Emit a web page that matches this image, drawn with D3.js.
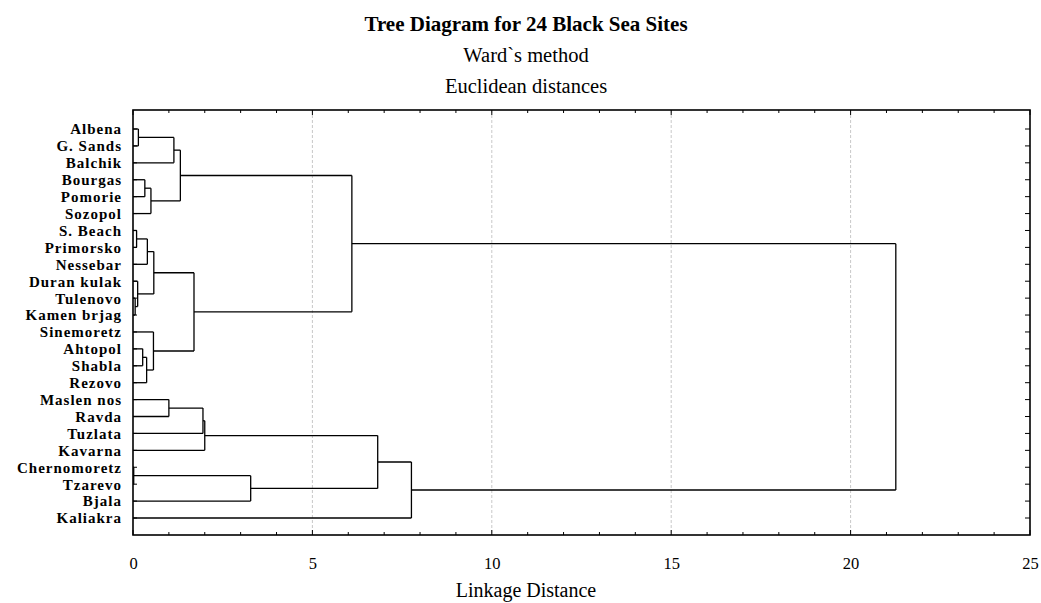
<!DOCTYPE html>
<html>
<head>
<meta charset="utf-8">
<script src="https://cdn.jsdelivr.net/npm/d3@7"></script>
<style>
  body { margin: 0; background: #fff; }
  text { font-family: "Liberation Serif", "Times New Roman", serif; fill: #000; }
</style>
</head>
<body>
<div id="chart"></div>
<script>
//leaf order as drawn, top to bottom
const sites = ["Albena", "G. Sands", "Balchik", "Bourgas", "Pomorie", "Sozopol",
  "S. Beach", "Primorsko", "Nessebar", "Duran kulak", "Tulenovo", "Kamen brjag",
  "Sinemoretz", "Ahtopol", "Shabla", "Rezovo", "Maslen nos", "Ravda", "Tuzlata",
  "Kavarna", "Chernomoretz", "Tzarevo", "Bjala", "Kaliakra"]

//joins: [new cluster, left, right, linkage distance]
const joins = [
  ["c1", "Albena", "G. Sands", 0.15],
  ["c2", "c1", "Balchik", 1.14],
  ["c3", "Bourgas", "Pomorie", 0.33],
  ["c4", "c3", "Sozopol", 0.50],
  ["c5", "c2", "c4", 1.32],
  ["c6", "S. Beach", "Primorsko", 0.10],
  ["c7", "c6", "Nessebar", 0.40],
  ["c8", "Tulenovo", "Kamen brjag", 0.06],
  ["c9", "Duran kulak", "c8", 0.13],
  ["c10", "c7", "c9", 0.58],
  ["c11", "Ahtopol", "Shabla", 0.27],
  ["c12", "c11", "Rezovo", 0.38],
  ["c13", "Sinemoretz", "c12", 0.57],
  ["c14", "c10", "c13", 1.70],
  ["c15", "c5", "c14", 6.10],
  ["c16", "Maslen nos", "Ravda", 1.00],
  ["c17", "c16", "Tuzlata", 1.95],
  ["c18", "c17", "Kavarna", 2.00],
  ["c19", "Chernomoretz", "Tzarevo", 0.02],
  ["c20", "c19", "Bjala", 3.28],
  ["c21", "c18", "c20", 6.82],
  ["c22", "c21", "Kaliakra", 7.76],
  ["c23", "c15", "c22", 21.26]
]

const xTicks = [0, 5, 10, 15, 20, 25]
const titleText = "Tree Diagram for 24 Black Sea Sites"
const subTitles = ["Ward`s method", "Euclidean distances"]
const xLabel = "Linkage Distance"

const W = 1041, H = 603
const dims = { top: 110, right: 11, bottom: 68, left: 133 }
dims.width = W - dims.left - dims.right
dims.height = H - dims.top - dims.bottom

const svg = d3.select("#chart").append("svg")
  .attr("width", W).attr("height", H)

const g = svg.append("g")
  .attr("transform", "translate(" + dims.left + "," + dims.top + ")")

const x = d3.scaleLinear().domain([0, 25]).range([0, dims.width])
const y = d3.scalePoint().domain(sites).range([19, 408])

//build the tree from the joins list
const byId = {}
sites.forEach(s => { byId[s] = { id: s, h: 0, children: null } })
joins.forEach(j => {
  byId[j[0]] = { id: j[0], h: j[3], children: [byId[j[1]], byId[j[2]]] }
})
const root = d3.hierarchy(byId[joins[joins.length - 1][0]])
root.eachAfter(n => {
  n.py = n.children ? d3.mean(n.children, c => c.py) : y(n.data.id)
})

//grid lines
g.selectAll(".grid").data(xTicks.filter(t => t > 0 && t < 25)).join("line")
  .attr("x1", d => x(d)).attr("x2", d => x(d))
  .attr("y1", 0).attr("y2", dims.height)
  .attr("stroke", "#c8c8c8").attr("stroke-width", 1)
  .attr("stroke-dasharray", "3,2")

//dendrogram elbows
const links = g.append("g").attr("fill", "none").attr("stroke", "#000").attr("stroke-width", 1.3)
root.each(n => {
  if (!n.children) return
  const nx = x(n.data.h)
  const ys = n.children.map(c => c.py)
  links.append("path")
    .attr("d", "M" + nx + "," + d3.min(ys) + "V" + d3.max(ys))
  n.children.forEach(c => {
    links.append("path").attr("d", "M" + x(c.data.h) + "," + c.py + "H" + nx)
  })
})

//axes: bottom with labels, top without, ticks pointing in
const minor = d3.range(0, 26)
const bottomAx = d3.axisBottom(x).tickValues(xTicks).tickSize(0).tickPadding(22)
g.append("g").attr("transform", "translate(0," + dims.height + ")")
  .call(bottomAx)
  .call(a => a.select(".domain").remove())
  .selectAll("text").style("font-size", "16.5px").style("font-family", "Liberation Serif")

const tickG = g.append("g").attr("stroke", "#000").attr("stroke-width", 1)
tickG.selectAll(".tb").data(minor).join("line")
  .attr("x1", d => x(d)).attr("x2", d => x(d))
  .attr("y1", dims.height).attr("y2", d => dims.height - (d % 5 ? 3 : 5))
tickG.selectAll(".tt").data(minor).join("line")
  .attr("x1", d => x(d)).attr("x2", d => x(d))
  .attr("y1", 0).attr("y2", d => (d % 5 ? 3 : 5))
tickG.selectAll(".tl").data(sites).join("line")
  .attr("x1", 0).attr("x2", 4)
  .attr("y1", d => y(d)).attr("y2", d => y(d))
tickG.selectAll(".tr").data(sites).join("line")
  .attr("x1", dims.width).attr("x2", dims.width - 5)
  .attr("y1", d => y(d)).attr("y2", d => y(d))

//frame
g.append("rect").attr("width", dims.width).attr("height", dims.height)
  .attr("fill", "none").attr("stroke", "#000").attr("stroke-width", 1.6)

//leaf labels
g.selectAll(".leaf").data(sites).join("text")
  .attr("x", -11).attr("y", d => y(d)).attr("dy", "0.36em")
  .attr("text-anchor", "end")
  .style("font-size", "15px").style("font-weight", "bold").style("letter-spacing", "1px")
  .text(d => d)

//titles
const cx = 526
svg.append("text").attr("x", cx).attr("y", 31).attr("text-anchor", "middle")
  .style("font-size", "21px").style("font-weight", "bold").text(titleText)
svg.selectAll(".sub").data(subTitles).join("text")
  .attr("x", cx).attr("y", (d, i) => 62 + i * 31).attr("text-anchor", "middle")
  .style("font-size", "20.5px").text(d => d)
svg.append("text").attr("x", cx).attr("y", 597).attr("text-anchor", "middle")
  .style("font-size", "20px").text(xLabel)
</script>
</body>
</html>
